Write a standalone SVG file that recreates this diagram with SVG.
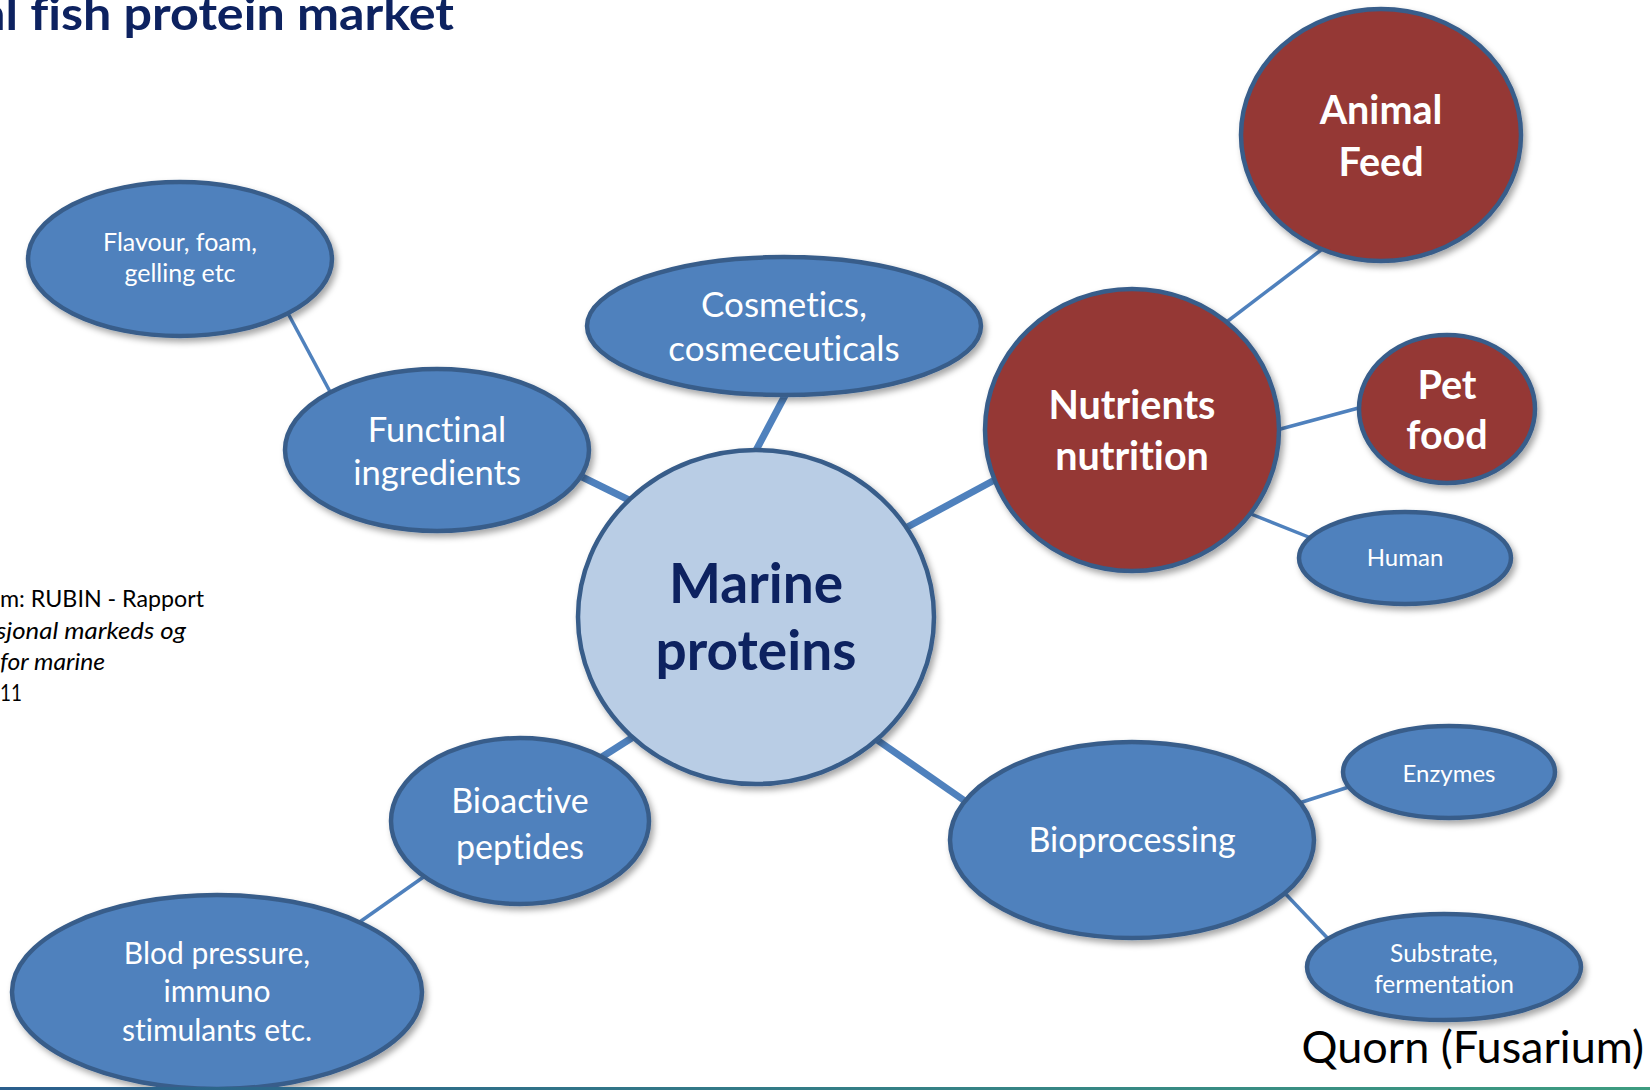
<svg xmlns="http://www.w3.org/2000/svg" width="1650" height="1090" viewBox="0 0 1650 1090">
<defs>
<filter id="sh" x="-10%" y="-10%" width="125%" height="125%">
<feDropShadow dx="3" dy="4" stdDeviation="3" flood-color="#000" flood-opacity="0.35"/>
</filter>
<linearGradient id="bar" x1="0" y1="0" x2="1" y2="0">
<stop offset="0" stop-color="#2A5E8C"/>
<stop offset="1" stop-color="#3D9C80"/>
</linearGradient>
</defs>
<style>
text{font-variant-ligatures:none;font-feature-settings:"liga" 0,"clig" 0}
.blue{fill:#4F81BD;stroke:#385D8A;stroke-width:4.5;filter:url(#sh)}
.red{fill:#953735;stroke:#385D8A;stroke-width:4.5;filter:url(#sh)}
.core{fill:#B9CDE5;stroke:#385D8A;stroke-width:4.5;filter:url(#sh)}
.t{font-family:Lato,"Open Sans","Liberation Sans",sans-serif;fill:#fff;text-anchor:middle}
.b{font-weight:bold}
.c1{stroke:#4F81BD;stroke-width:7;fill:none}
.c2{stroke:#4F81BD;stroke-width:3.5;fill:none}
.src{font-family:Lato,"Open Sans","Liberation Sans",sans-serif;font-size:24px;fill:#000}
</style>
<rect width="1650" height="1090" fill="#fff"/>
<text x="-20" y="30" font-family="Lato,'Open Sans','Liberation Sans',sans-serif" font-weight="bold" font-size="46" fill="#0D2260" textLength="474" lengthAdjust="spacingAndGlyphs">al fish protein market</text>
<g id="source">
<text class="src" x="0" y="607" textLength="204" lengthAdjust="spacingAndGlyphs">m: RUBIN - Rapport</text>
<text class="src" x="-4" y="639" font-style="italic" textLength="190" lengthAdjust="spacingAndGlyphs">sjonal markeds og</text>
<text class="src" x="0" y="670" font-style="italic" textLength="105" lengthAdjust="spacingAndGlyphs">for marine</text>
<text class="src" x="0" y="701" textLength="22" lengthAdjust="spacingAndGlyphs">11</text>
</g>
<g id="connectors">
<line class="c2" x1="283" y1="304" x2="335" y2="401"/>
<line class="c1" x1="570" y1="471" x2="635" y2="503"/>
<line class="c1" x1="789" y1="388" x2="752" y2="458"/>
<line class="c1" x1="900" y1="531" x2="1002" y2="476"/>
<line class="c2" x1="1220" y1="327" x2="1329" y2="244"/>
<line class="c2" x1="1273" y1="431" x2="1366" y2="406"/>
<line class="c2" x1="1246" y1="512" x2="1316" y2="540"/>
<line class="c1" x1="638" y1="734" x2="594" y2="762"/>
<line class="c2" x1="432" y1="871" x2="354" y2="926"/>
<line class="c1" x1="870" y1="735" x2="975" y2="808"/>
<line class="c2" x1="1293" y1="805" x2="1355" y2="785"/>
<line class="c2" x1="1279" y1="887" x2="1335" y2="946"/>
</g>
<g id="flavour">
<ellipse class="blue" cx="180" cy="259" rx="152" ry="77"/>
<text class="t" x="180" y="251" font-size="25">Flavour, foam,</text>
<text class="t" x="180" y="282" font-size="25">gelling etc</text>
</g>
<g id="functional">
<ellipse class="blue" cx="437" cy="450" rx="152" ry="81"/>
<text class="t" x="437" y="442" font-size="34.5">Functinal</text>
<text class="t" x="437" y="485" font-size="34.5">ingredients</text>
</g>
<g id="cosmetics">
<ellipse class="blue" cx="784" cy="326" rx="197" ry="69"/>
<text class="t" x="784" y="317" font-size="35">Cosmetics,</text>
<text class="t" x="784" y="361" font-size="35">cosmeceuticals</text>
</g>
<g id="marine">
<ellipse class="core" cx="756" cy="617" rx="178" ry="167"/>
<text class="t b" x="756" y="603" font-size="55" style="fill:#0D2260">Marine</text>
<text class="t b" x="756" y="670" font-size="55" style="fill:#0D2260">proteins</text>
</g>
<g id="nutrients">
<ellipse class="red" cx="1132" cy="430" rx="147" ry="141"/>
<text class="t b" x="1132" y="419" font-size="39.5">Nutrients</text>
<text class="t b" x="1132" y="470" font-size="39.5">nutrition</text>
</g>
<g id="animal">
<ellipse class="red" cx="1381" cy="135" rx="140" ry="126"/>
<text class="t b" x="1381" y="124" font-size="39.5">Animal</text>
<text class="t b" x="1381" y="176" font-size="39.5">Feed</text>
</g>
<g id="pet">
<ellipse class="red" cx="1447" cy="409" rx="88" ry="74"/>
<text class="t b" x="1447" y="399" font-size="39.5">Pet</text>
<text class="t b" x="1447" y="449" font-size="39.5">food</text>
</g>
<g id="human">
<ellipse class="blue" cx="1405" cy="558" rx="106" ry="46"/>
<text class="t" x="1405" y="566" font-size="24">Human</text>
</g>
<g id="bioactive">
<ellipse class="blue" cx="520" cy="821" rx="129" ry="83"/>
<text class="t" x="520" y="813" font-size="34">Bioactive</text>
<text class="t" x="520" y="859" font-size="34">peptides</text>
</g>
<g id="blod">
<ellipse class="blue" cx="217" cy="992" rx="205" ry="97"/>
<text class="t" x="217" y="964" font-size="30">Blod pressure,</text>
<text class="t" x="217" y="1002" font-size="30">immuno</text>
<text class="t" x="217" y="1041" font-size="30">stimulants etc.</text>
</g>
<g id="bioprocessing">
<ellipse class="blue" cx="1132" cy="840" rx="182" ry="98"/>
<text class="t" x="1132" y="852" font-size="34">Bioprocessing</text>
</g>
<g id="enzymes">
<ellipse class="blue" cx="1449" cy="772" rx="106" ry="46"/>
<text class="t" x="1449" y="782" font-size="24">Enzymes</text>
</g>
<g id="substrate">
<ellipse class="blue" cx="1444" cy="967" rx="137" ry="53"/>
<text class="t" x="1444" y="962" font-size="24.5">Substrate,</text>
<text class="t" x="1444" y="993" font-size="24.5">fermentation</text>
</g>
<text x="1644" y="1063" font-family="Lato,'Open Sans','Liberation Sans',sans-serif" font-size="45" fill="#000" text-anchor="end">Quorn (Fusarium)</text>
<rect x="0" y="1087" width="1650" height="3" fill="url(#bar)"/>
</svg>
